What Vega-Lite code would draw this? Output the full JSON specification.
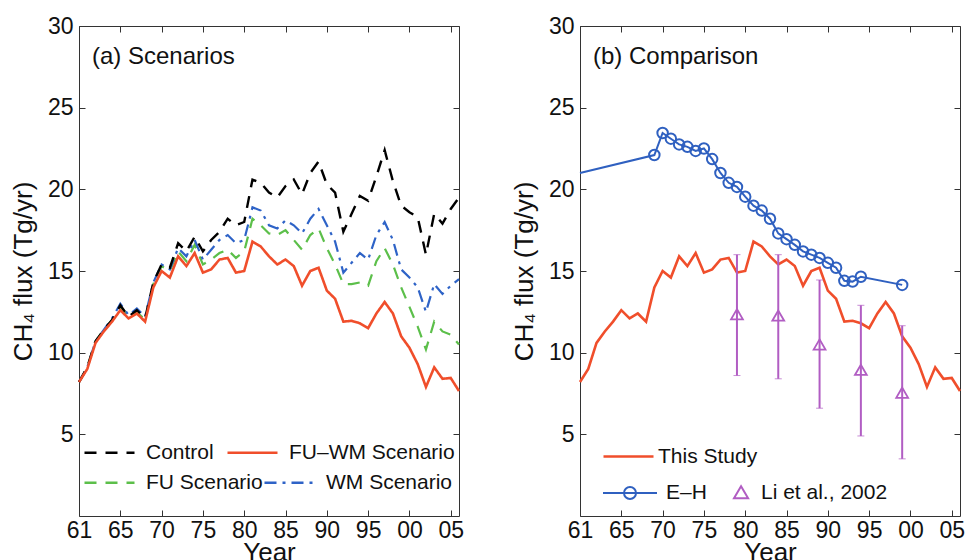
{
  "$schema": "https://vega.github.io/schema/vega-lite/v6.json",
  "padding": {"left": 9, "top": 14, "right": 5, "bottom": 0},
  "background": "white",
  "config": {
    "font": "Liberation Sans",
    "view": {"stroke": "#333333", "strokeWidth": 1},
    "axis": {
      "labelFont": "Liberation Sans", "labelFontSize": 23, "labelColor": "#111111",
      "titleFont": "Liberation Sans", "titleFontSize": 26, "titleFontWeight": "normal", "titleColor": "#111111",
      "tickColor": "#333333", "tickSize": -6, "domain": false, "grid": false, "labelFlush": false
    },
    "legend": {"labelFont": "Liberation Sans", "labelColor": "#111111", "labelFontSize": 21, "labelLimit": 400}
  },
  "datasets": {
    "a": [
      {"year": 1960, "control": 8.2, "fu": 8.2, "wm": 8.2, "fuwm": 8.2},
      {"year": 1961, "control": 9.1, "fu": 9.1, "wm": 9.1, "fuwm": 9.0},
      {"year": 1962, "control": 10.7, "fu": 10.7, "wm": 10.7, "fuwm": 10.6},
      {"year": 1963, "control": 11.4, "fu": 11.4, "wm": 11.4, "fuwm": 11.3},
      {"year": 1964, "control": 12.0, "fu": 12.0, "wm": 12.1, "fuwm": 11.9},
      {"year": 1965, "control": 12.9, "fu": 12.8, "wm": 13.0, "fuwm": 12.6},
      {"year": 1966, "control": 12.2, "fu": 12.2, "wm": 12.3, "fuwm": 12.1},
      {"year": 1967, "control": 12.6, "fu": 12.5, "wm": 12.7, "fuwm": 12.4},
      {"year": 1968, "control": 12.1, "fu": 12.0, "wm": 12.2, "fuwm": 11.9},
      {"year": 1969, "control": 14.3, "fu": 14.2, "wm": 14.3, "fuwm": 14.0},
      {"year": 1970, "control": 15.4, "fu": 15.3, "wm": 15.4, "fuwm": 15.0},
      {"year": 1971, "control": 15.2, "fu": 15.0, "wm": 15.1, "fuwm": 14.6},
      {"year": 1972, "control": 16.7, "fu": 16.2, "wm": 16.4, "fuwm": 15.9},
      {"year": 1973, "control": 16.2, "fu": 15.6, "wm": 15.9, "fuwm": 15.3},
      {"year": 1974, "control": 17.1, "fu": 16.6, "wm": 16.9, "fuwm": 16.1},
      {"year": 1975, "control": 16.2, "fu": 15.4, "wm": 15.7, "fuwm": 14.9},
      {"year": 1976, "control": 16.9, "fu": 15.7, "wm": 16.3, "fuwm": 15.1},
      {"year": 1977, "control": 17.4, "fu": 16.1, "wm": 16.9, "fuwm": 15.7},
      {"year": 1978, "control": 18.2, "fu": 16.3, "wm": 17.2, "fuwm": 15.8},
      {"year": 1979, "control": 17.8, "fu": 15.8, "wm": 16.7, "fuwm": 14.9},
      {"year": 1980, "control": 18.0, "fu": 16.2, "wm": 16.9, "fuwm": 15.0},
      {"year": 1981, "control": 20.6, "fu": 18.2, "wm": 18.9, "fuwm": 16.8},
      {"year": 1982, "control": 20.4, "fu": 17.8, "wm": 18.7, "fuwm": 16.5},
      {"year": 1983, "control": 19.8, "fu": 17.3, "wm": 17.8, "fuwm": 15.9},
      {"year": 1984, "control": 19.5, "fu": 17.2, "wm": 17.6, "fuwm": 15.4},
      {"year": 1985, "control": 20.2, "fu": 17.5, "wm": 18.1, "fuwm": 15.7},
      {"year": 1986, "control": 20.6, "fu": 16.9, "wm": 17.8, "fuwm": 15.3},
      {"year": 1987, "control": 19.7, "fu": 16.3, "wm": 17.3, "fuwm": 14.1},
      {"year": 1988, "control": 21.0, "fu": 17.2, "wm": 18.2, "fuwm": 15.0},
      {"year": 1989, "control": 21.7, "fu": 17.6, "wm": 18.8, "fuwm": 15.2},
      {"year": 1990, "control": 20.3, "fu": 16.4, "wm": 17.8, "fuwm": 13.8},
      {"year": 1991, "control": 19.8, "fu": 15.4, "wm": 16.8, "fuwm": 13.3},
      {"year": 1992, "control": 17.4, "fu": 14.2, "wm": 14.9, "fuwm": 11.9},
      {"year": 1993, "control": 18.5, "fu": 14.2, "wm": 15.5, "fuwm": 11.95},
      {"year": 1994, "control": 19.6, "fu": 14.3, "wm": 16.1, "fuwm": 11.8},
      {"year": 1995, "control": 19.3, "fu": 14.1, "wm": 15.7, "fuwm": 11.5},
      {"year": 1996, "control": 20.8, "fu": 15.6, "wm": 17.2, "fuwm": 12.4},
      {"year": 1997, "control": 22.4, "fu": 16.4, "wm": 18.0, "fuwm": 13.1},
      {"year": 1998, "control": 20.5, "fu": 15.4, "wm": 16.9, "fuwm": 12.4},
      {"year": 1999, "control": 19.0, "fu": 14.0, "wm": 15.1, "fuwm": 11.0},
      {"year": 2000, "control": 18.6, "fu": 12.8, "wm": 14.6, "fuwm": 10.3},
      {"year": 2001, "control": 18.3, "fu": 11.6, "wm": 14.0, "fuwm": 9.3},
      {"year": 2002, "control": 16.0, "fu": 10.2, "wm": 12.5, "fuwm": 7.9},
      {"year": 2003, "control": 18.5, "fu": 11.9, "wm": 14.2, "fuwm": 9.1},
      {"year": 2004, "control": 17.9, "fu": 11.3, "wm": 13.6, "fuwm": 8.4},
      {"year": 2005, "control": 18.8, "fu": 11.1, "wm": 14.1, "fuwm": 8.45},
      {"year": 2006, "control": 19.5, "fu": 10.5, "wm": 14.5, "fuwm": 7.65}
    ],
    "eh": [
      {"year": 1960, "eh": 21.0},
      {"year": 1969, "eh": 22.1},
      {"year": 1970, "eh": 23.45},
      {"year": 1971, "eh": 23.1},
      {"year": 1972, "eh": 22.75},
      {"year": 1973, "eh": 22.6},
      {"year": 1974, "eh": 22.35},
      {"year": 1975, "eh": 22.5},
      {"year": 1976, "eh": 21.85},
      {"year": 1977, "eh": 21.0},
      {"year": 1978, "eh": 20.4},
      {"year": 1979, "eh": 20.15},
      {"year": 1980, "eh": 19.55},
      {"year": 1981, "eh": 19.0},
      {"year": 1982, "eh": 18.7},
      {"year": 1983, "eh": 18.2},
      {"year": 1984, "eh": 17.3},
      {"year": 1985, "eh": 16.95},
      {"year": 1986, "eh": 16.6},
      {"year": 1987, "eh": 16.2},
      {"year": 1988, "eh": 16.0},
      {"year": 1989, "eh": 15.8},
      {"year": 1990, "eh": 15.5},
      {"year": 1991, "eh": 15.2},
      {"year": 1992, "eh": 14.4},
      {"year": 1993, "eh": 14.35},
      {"year": 1994, "eh": 14.65},
      {"year": 1999, "eh": 14.15}
    ],
    "li": [
      {"year": 1979, "li": 12.35, "lo": 8.6, "hi": 16.0},
      {"year": 1984, "li": 12.27, "lo": 8.4, "hi": 16.0},
      {"year": 1989, "li": 10.5, "lo": 6.6, "hi": 14.45},
      {"year": 1994, "li": 8.95, "lo": 4.9, "hi": 12.9},
      {"year": 1999, "li": 7.55, "lo": 3.5, "hi": 11.65}
    ]
  },
  "spacing": 45,
  "resolve": {
    "scale": {"color": "independent", "strokeDash": "independent"},
    "legend": {"color": "independent", "strokeDash": "independent"}
  },
  "hconcat": [
    {
      "width": 380,
      "height": 490,
      "title": {"text": "(a) Scenarios", "anchor": "start", "frame": "group", "orient": "top", "offset": -73, "dx": 13, "baseline": "alphabetic", "fontSize": 24, "fontWeight": "normal", "font": "Liberation Sans", "color": "#111111"},
      "data": {"name": "a"},
      "layer": [
        {
          "layer": [
            {
              "mark": {"type": "line", "strokeWidth": 2.2},
              "encoding": {
                "x": {"field": "year", "type": "quantitative", "scale": {"domain": [1960, 2006], "nice": false, "zero": false},
                      "axis": {"orient": "bottom", "values": [1960, 1965, 1970, 1975, 1980, 1985, 1990, 1995, 2000, 2005], "labelExpr": "datum.value == 1960 ? '61' : slice(format(datum.value, 'd'), 2)", "title": "Year", "labelPadding": 9, "titlePadding": -3}},
                "y": {"field": "fu", "type": "quantitative", "scale": {"domain": [0, 30], "nice": false, "zero": false},
                      "axis": {"orient": "left", "values": [5, 10, 15, 20, 25, 30], "title": "CH₄ flux (Tg/yr)", "labelPadding": 12, "titlePadding": 11}},
                "color": {"datum": "FU Scenario", "scale": {"domain": ["FU Scenario", "WM Scenario"], "range": ["#5cbf4a", "#2e63c7"]},
                          "legend": {"orient": "none", "legendX": 4, "legendY": 430, "columns": 2, "direction": "horizontal", "symbolType": "stroke", "symbolSize": 2500, "symbolStrokeWidth": 2.5, "labelOffset": 10, "columnPadding": -8, "padding": 0, "title": null}},
                "strokeDash": {"datum": "FU Scenario", "scale": {"domain": ["FU Scenario", "WM Scenario"], "range": [[12, 9], [12, 6, 3, 6]]},
                          "legend": {"orient": "none", "legendX": 4, "legendY": 430, "columns": 2, "direction": "horizontal", "symbolType": "stroke", "symbolSize": 2500, "symbolStrokeWidth": 2.5, "labelOffset": 10, "columnPadding": -8, "padding": 0, "title": null}}
              }
            },
            {
              "mark": {"type": "line", "strokeWidth": 2.2},
              "encoding": {
                "x": {"field": "year", "type": "quantitative", "axis": null},
                "y": {"field": "wm", "type": "quantitative", "axis": null},
                "color": {"datum": "WM Scenario"},
                "strokeDash": {"datum": "WM Scenario"}
              }
            }
          ],
          "resolve": {"axis": {"x": "independent", "y": "independent"}}
        },
        {
          "layer": [
            {
              "mark": {"type": "line", "strokeWidth": 2.4},
              "encoding": {
                "x": {"field": "year", "type": "quantitative",
                      "axis": {"orient": "top", "values": [1960, 1965, 1970, 1975, 1980, 1985, 1990, 1995, 2000, 2005], "labels": false, "title": null}},
                "y": {"field": "control", "type": "quantitative",
                      "axis": {"orient": "right", "values": [5, 10, 15, 20, 25, 30], "labels": false, "title": null}},
                "color": {"datum": "Control", "scale": {"domain": ["Control", "FU–WM Scenario"], "range": ["#000000", "#f04e2b"]},
                          "legend": {"orient": "none", "legendX": 4, "legendY": 400, "columns": 2, "direction": "horizontal", "symbolType": "stroke", "symbolSize": 2500, "symbolStrokeWidth": 2.5, "labelOffset": 10, "columnPadding": 8, "padding": 0, "title": null}},
                "strokeDash": {"datum": "Control", "scale": {"domain": ["Control", "FU–WM Scenario"], "range": [[12, 9], [1, 0]]},
                          "legend": {"orient": "none", "legendX": 4, "legendY": 400, "columns": 2, "direction": "horizontal", "symbolType": "stroke", "symbolSize": 2500, "symbolStrokeWidth": 2.5, "labelOffset": 10, "columnPadding": 8, "padding": 0, "title": null}}
              }
            },
            {
              "mark": {"type": "line", "strokeWidth": 2.6},
              "encoding": {
                "x": {"field": "year", "type": "quantitative", "axis": null},
                "y": {"field": "fuwm", "type": "quantitative", "axis": null},
                "color": {"datum": "FU–WM Scenario"},
                "strokeDash": {"datum": "FU–WM Scenario"}
              }
            }
          ],
          "resolve": {"axis": {"x": "independent", "y": "independent"}}
        }
      ],
      "resolve": {
        "scale": {"color": "independent", "strokeDash": "independent"},
        "legend": {"color": "independent", "strokeDash": "independent"},
        "axis": {"x": "independent", "y": "independent"}
      }
    },
    {
      "width": 380,
      "height": 490,
      "title": {"text": "(b) Comparison", "anchor": "start", "frame": "group", "orient": "top", "offset": -73, "dx": 13, "baseline": "alphabetic", "fontSize": 24, "fontWeight": "normal", "font": "Liberation Sans", "color": "#111111"},
      "layer": [
        {
          "data": {"name": "a"},
          "mark": {"type": "line", "strokeWidth": 2.6},
          "encoding": {
            "x": {"field": "year", "type": "quantitative", "scale": {"domain": [1960, 2006], "nice": false, "zero": false},
                  "axis": {"orient": "bottom", "values": [1960, 1965, 1970, 1975, 1980, 1985, 1990, 1995, 2000, 2005], "labelExpr": "datum.value == 1960 ? '61' : slice(format(datum.value, 'd'), 2)", "title": "Year", "labelPadding": 9, "titlePadding": -3}},
            "y": {"field": "fuwm", "type": "quantitative", "scale": {"domain": [0, 30], "nice": false, "zero": false},
                  "axis": {"orient": "left", "values": [5, 10, 15, 20, 25, 30], "title": "CH₄ flux (Tg/yr)", "labelPadding": 12, "titlePadding": 11}},
            "color": {"datum": "This Study", "scale": {"domain": ["This Study"], "range": ["#f04e2b"]},
                      "legend": {"orient": "none", "legendX": 22, "legendY": 404, "symbolType": "stroke", "symbolSize": 2500, "symbolStrokeWidth": 2.5, "labelOffset": 3, "padding": 0, "title": null}}
          }
        },
        {
          "layer": [
            {
              "data": {"name": "eh"},
              "mark": {"type": "line", "strokeWidth": 2},
              "encoding": {
                "x": {"field": "year", "type": "quantitative",
                      "axis": {"orient": "top", "values": [1960, 1965, 1970, 1975, 1980, 1985, 1990, 1995, 2000, 2005], "labels": false, "title": null}},
                "y": {"field": "eh", "type": "quantitative",
                      "axis": {"orient": "right", "values": [5, 10, 15, 20, 25, 30], "labels": false, "title": null}},
                "color": {"datum": "E–H", "scale": {"domain": ["E–H", "Li et al., 2002"], "range": ["#2f60c0", "#b15dc3"]},
                          "legend": {"orient": "none", "legendX": 34, "legendY": 451, "columns": 2, "direction": "horizontal", "symbolSize": 900, "symbolStrokeWidth": 2, "labelOffset": 20, "columnPadding": 2, "padding": 0, "title": null,
                            "encode": {"symbols": {"update": {
                              "shape": {"signal": "datum.value === 'E–H' ? 'M-1.8,0H1.8M-0.4,0A0.4,0.4 0 1,0 0.4,0A0.4,0.4 0 1,0 -0.4,0' : 'M1.07,-0.45L1.54,0.35L0.6,0.35Z'"},
                              "fill": {"value": "transparent"},
                              "stroke": {"signal": "datum.value === 'E–H' ? '#2f60c0' : '#b15dc3'"},
                              "strokeDash": {"value": []},
                              "opacity": {"value": 1}
                            }}}}}
              }
            },
            {
              "data": {"name": "eh"},
              "transform": [{"filter": "datum.year > 1960"}],
              "mark": {"type": "point", "filled": false, "size": 110, "strokeWidth": 2, "opacity": 1},
              "encoding": {
                "x": {"field": "year", "type": "quantitative", "axis": null},
                "y": {"field": "eh", "type": "quantitative", "axis": null},
                "color": {"datum": "E–H"}
              }
            },
            {
              "data": {"name": "li"},
              "mark": {"type": "errorbar", "color": "#b15dc3", "ticks": {"size": 7, "strokeWidth": 1.5}, "rule": {"strokeWidth": 2}},
              "encoding": {
                "x": {"field": "year", "type": "quantitative", "axis": null},
                "y": {"field": "lo", "type": "quantitative", "axis": null},
                "y2": {"field": "hi"}
              }
            },
            {
              "data": {"name": "li"},
              "mark": {"type": "point", "shape": "triangle-up", "filled": false, "size": 140, "strokeWidth": 1.8, "opacity": 1},
              "encoding": {
                "x": {"field": "year", "type": "quantitative", "axis": null},
                "y": {"field": "li", "type": "quantitative", "axis": null},
                "color": {"datum": "Li et al., 2002"}
              }
            }
          ],
          "resolve": {"axis": {"x": "independent", "y": "independent"}}
        }
      ],
      "resolve": {
        "scale": {"color": "independent"},
        "legend": {"color": "independent"},
        "axis": {"x": "independent", "y": "independent"}
      }
    }
  ]
}
